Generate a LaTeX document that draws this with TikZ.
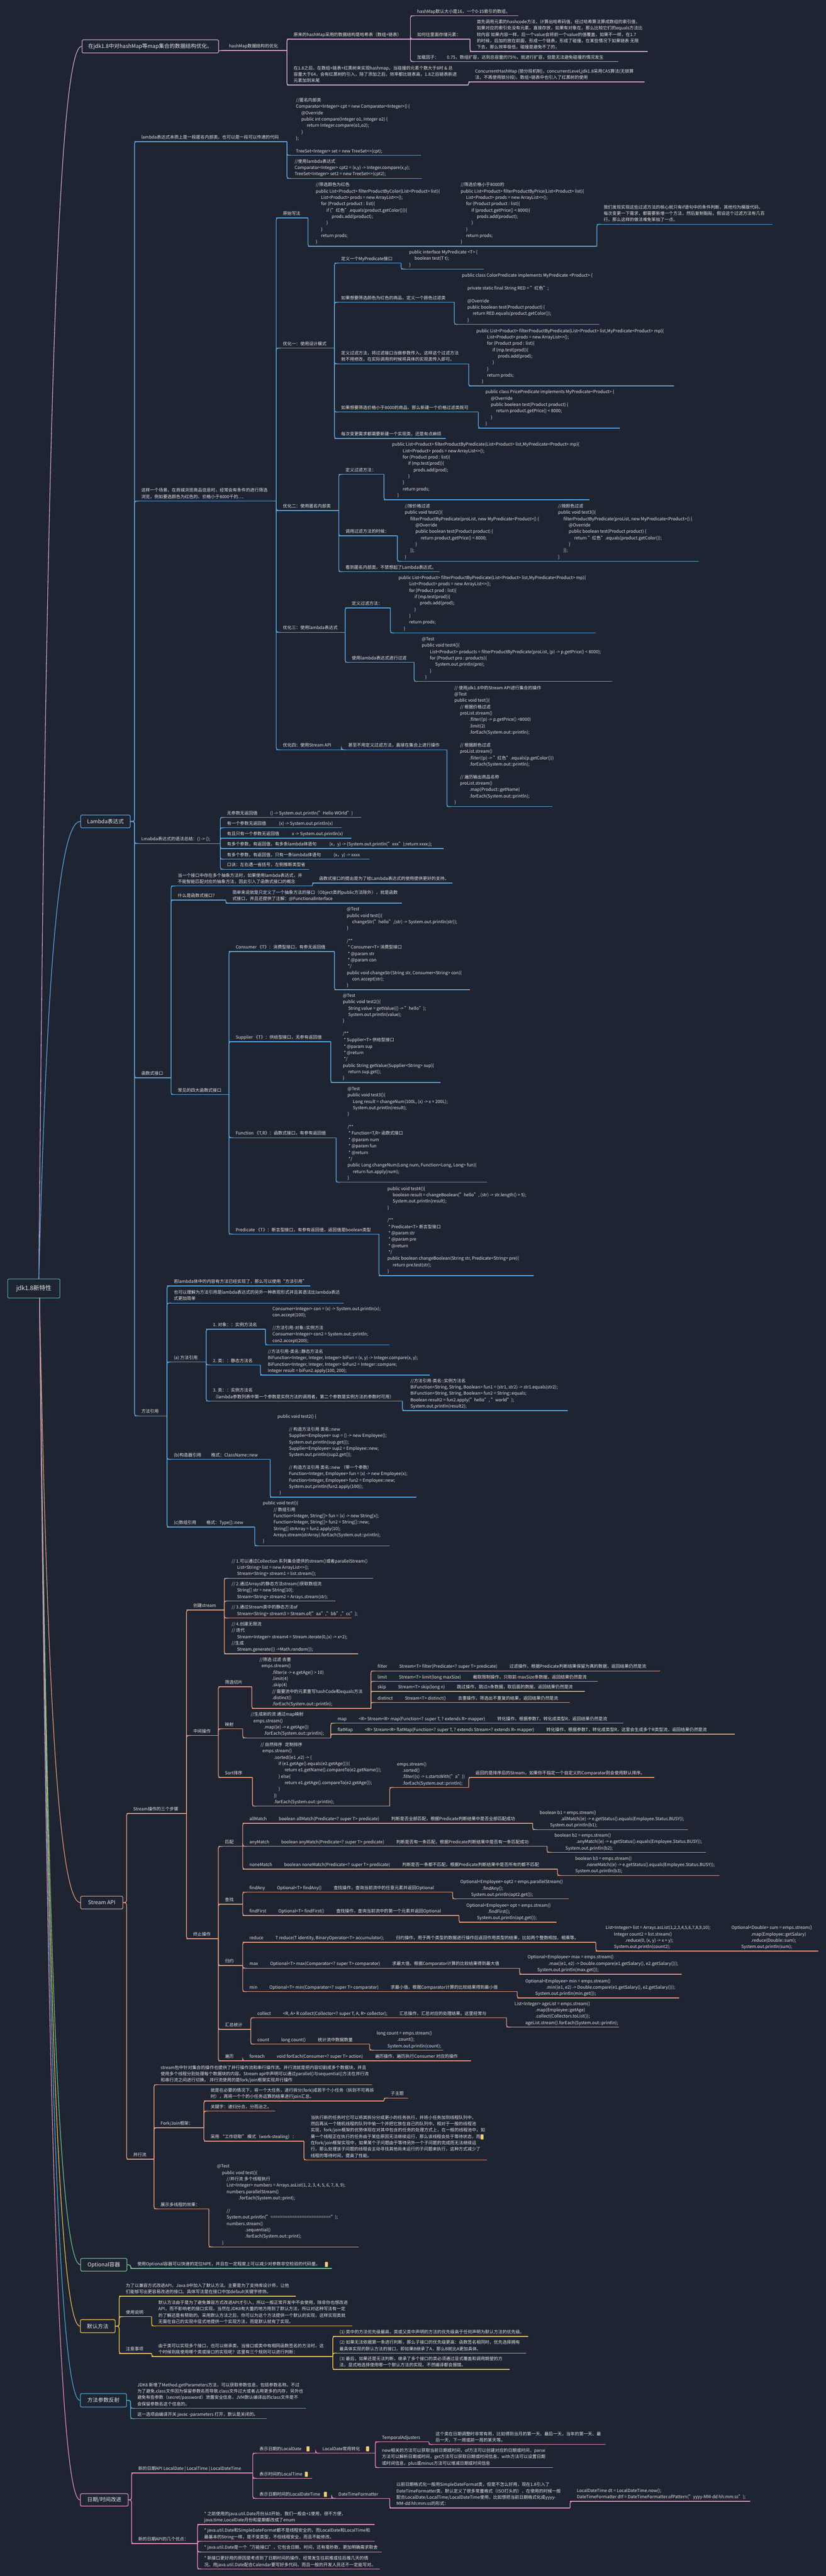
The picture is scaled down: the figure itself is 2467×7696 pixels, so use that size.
\documentclass[tikz,border=0pt]{standalone}
\usepackage{fontspec}
\setmainfont{Noto Sans CJK SC}
\usetikzlibrary{calc}
\definecolor{bg}{HTML}{1E2431}
\definecolor{txtc}{HTML}{E8E8E8}
\definecolor{cA}{HTML}{D4A2D6}
\definecolor{cB}{HTML}{5AA6E0}
\definecolor{cC}{HTML}{E09A80}
\definecolor{cD}{HTML}{6FBF8E}
\definecolor{cE}{HTML}{EEC14C}
\definecolor{cF}{HTML}{49A9D9}
\definecolor{cG}{HTML}{E48DBE}
\definecolor{cR}{HTML}{4BA39E}
\definecolor{noteY}{HTML}{F3D27A}
\newcommand\jj[1]{\hspace*{#1pt}}
\tikzset{
  txt/.style={text=txtc, font=\fontsize{13}{19}\selectfont, inner sep=0pt, align=left, text depth=4pt, anchor=south west},
  ul/.style={line width=2.2pt, draw=#1},
  conn/.style={line width=2.2pt, draw=#1, rounded corners=6pt},
  curve/.style={line width=2pt, draw=#1},
  mainbox/.style={draw=#1, line width=2pt, rounded corners=3pt, fill=bg, text=txtc, font=\fontsize{16}{20}\selectfont, inner sep=0pt, anchor=north west},
  icon/.style={fill=noteY, rounded corners=1.5pt, minimum width=9pt, minimum height=15pt, inner sep=0pt}
}
\newcommand\tp[6]{%
  \coordinate (#1-s) at (#3,#5);
  \coordinate (#1-e) at (#4,#5);
  \draw[ul=#2] (#1-s) -- (#1-e);
  \node[txt] (#1) at ({#3+20},{#5-4}) {#6};}
\newcommand\tpx[7]{%
  \coordinate (#1-s) at (#3,#5);
  \coordinate (#1-e) at (#4,#5);
  \draw[ul=#2] (#1-s) -- (#1-e);
  \node[txt] (#1) at (#6,{#5-4}) {#7};}
\newcommand\cns[3]{\foreach \chn in {#3}{\draw[conn=#1] (#2-e) |- ([xshift=12pt]\chn-s);}}
\newcommand\cbs[3]{\foreach \chn in {#3}{\draw[conn=#1] (#2.east) -- (#2.east -| \chn-s) |- ([xshift=12pt]\chn-s);}}
\begin{document}
\begin{tikzpicture}[x=1pt,y=-1pt]
\fill[bg] (0,0) rectangle (2467,7696);
\useasboundingbox (0,0) rectangle (2467,7696);

% ---------- root and main boxes ----------
\node[mainbox=cR, font=\fontsize{18}{22}\selectfont, minimum width=156pt, minimum height=57pt] (root) at (22,3820) {jdk1.8新特性};
\coordinate (rt) at (116,3820);
\coordinate (rb) at (118,3877);
\node[mainbox=cA, minimum width=408pt, minimum height=39pt] (b1) at (244,118) {在jdk1.8中对hashMap等map集合的数据结构优化。};
\node[mainbox=cB, minimum width=148pt, minimum height=38pt] (lam) at (240,2434) {Lambda表达式};
\node[mainbox=cC, minimum width=126pt, minimum height=38pt] (stm) at (240,5664) {Stream API};
\node[mainbox=cD, minimum width=138pt, minimum height=38pt] (opt) at (240,6746) {Optional容器};
\node[mainbox=cE, minimum width=104pt, minimum height=39pt] (dft) at (239,6929) {默认方法};
\node[mainbox=cF, minimum width=138pt, minimum height=40pt] (prf) at (239,7150) {方法参数反射};
\node[mainbox=cG, minimum width=143pt, minimum height=37pt] (dat) at (239,7449) {日期/时间改进};

\draw[curve=cA] (rt) .. controls (136,1610) and (165,137.5) .. (b1.west);
\draw[curve=cB] (rt) .. controls (136,3068) and (166,2453) .. (lam.west);
\draw[curve=cC] (rb) .. controls (138,4870) and (167,5683) .. (stm.west);
\draw[curve=cD] (rb) .. controls (138,5465) and (167,6765) .. (opt.west);
\draw[curve=cE] (rb) .. controls (138,5566) and (166,6948.5) .. (dft.west);
\draw[curve=cF] (rb) .. controls (138,5688) and (166,7170) .. (prf.west);
\draw[curve=cG] (rb) .. controls (138,5852) and (166,7467.5) .. (dat.west);

% ---------- branch A : hashMap ----------
\tp{hA}{cA}{664}{857}{151}{hashMap数据结构的优化}
\tp{hA1}{cA}{857}{1226}{117}{原来的hashMap采用的数据结构是哈希表（数组+链表）}
\tp{hA2}{cA}{857}{1399}{254}{在1.8之后，在数组+链表+红黑树来实现hashmap，当碰撞的元素个数大于8时 \& 总\\容量大于64，会有红黑树的引入，除了添加之后，效率都比链表高，1.8之后链表新进\\元素加到末尾}
\tp{hA11}{cA}{1226}{1549}{47}{hashMap默认大小是16，一个0-15索引的数组，}
\tp{hA12}{cA}{1226}{1404}{117}{如何往里面存储元素：}
\tp{hA13}{cA}{1226}{1847}{184}{加载因子：\jj{24}0.75，数组扩容，达到总容量的75\%，就进行扩容，但是无法避免碰撞的情况发生}
\tp{hA121}{cA}{1404}{1934}{154}{首先调用元素的hashcode方法，计算出哈希码值，经过哈希算法算成数组的索引值，\\如果对应的索引处没有元素，直接存放，如果有对象在，那么比较它们的equals方法比\\较内容 如果内容一样，后一个value会将前一个value的值覆盖，如果不一样，在1.7\\的时候，后加的放在前面，形成一个链表，形成了碰撞，在某些情况下如果链表 无限\\下去，那么效率极低，碰撞是避免不了的，}
\tp{hA21}{cA}{1399}{1926}{245}{ConcurrentHashMap (锁分段机制)，concurrentLevel,jdk1.8采用CAS算法(无锁算\\法，不再使用锁分段)，数组+链表中也引入了红黑树的使用}
\draw[conn=cA] ([yshift=-13pt]b1.east) -- (hA-s);
\cns{cA}{hA}{hA1,hA2}
\cns{cA}{hA1}{hA11,hA12,hA13}
\cns{cA}{hA12}{hA121}
\cns{cA}{hA2}{hA21}

% ---------- branch B : Lambda ----------
\tp{L1}{cB}{402}{857}{423}{lambda表达式本质上是一段匿名内部类，也可以是一段可以传递的代码}
\tpx{L1a}{cB}{857}{1258}{464}{884}{//匿名内部类\\Comparator<Integer> cpt = new Comparator<Integer>() \{\\\jj{16}@Override\\\jj{16}public int compare(Integer o1, Integer o2) \{\\\jj{32}return Integer.compare(o1,o2);\\\jj{16}\}\\\};\\\mbox{}\\TreeSet<Integer> set = new TreeSet<>(cpt);}
\tpx{L1b}{cB}{857}{1261}{533}{880}{//使用lambda表达式\\Comparator<Integer> cpt2 = (x,y) -> Integer.compare(x,y);\\TreeSet<Integer> set2 = new TreeSet<>(cpt2);}

\tp{L2}{cB}{402}{825}{1497}{这样一个场景，在商城浏览商品信息时，经常会有条件的进行筛选\\浏览，例如要选颜色为红色的、价格小于8000千的….}
\tp{L2a}{cB}{825}{920}{651}{原始写法}
\tpx{L2a1}{cB}{920}{1783}{736}{943}{//筛选颜色为红色\\public List<Product> filterProductByColor(List<Product> list)\{\\\jj{16}List<Product> prods = new ArrayList<>();\\\jj{16}for (Product product : list)\{\\\jj{32}if ("红色".equals(product.getColor()))\{\\\jj{48}prods.add(product);\\\jj{32}\}\\\jj{16}\}\\\jj{16}return prods;\\\}}
\node[txt] (L2a1b) at (1376,732) {//筛选价格小于8000的\\public List<Product> filterProductByPrice(List<Product> list)\{\\\jj{16}List<Product> prods = new ArrayList<>();\\\jj{16}for (Product product : list)\{\\\jj{32}if (product.getPrice() < 8000)\{\\\jj{48}prods.add(product);\\\jj{32}\}\\\jj{16}\}\\\jj{16}return prods;\\\}};
\tp{L2a1a}{cB}{1783}{2308}{670}{我们发现实现这些过滤方法的核心就只有if语句中的条件判断，其他均为模版代码，\\每次变更一下需求，都需要新增一个方法，然后复制黏贴，假设这个过滤方法有几百\\行，那么这样的做法难免笨拙了一点。}

\tp{L2b}{cB}{825}{999}{1040}{优化一：使用设计模式}
\tp{L2b1}{cB}{999}{1198}{786}{定义一个MyPredicate接口}
\tpx{L2b1a}{cB}{1198}{1446}{804}{1222}{public interface MyPredicate <T> \{\\\jj{16}boolean test(T t);\\\}}
\tp{L2b2}{cB}{999}{1357}{903}{如果想要筛选颜色为红色的商品，定义一个颜色过滤类}
\tpx{L2b2a}{cB}{1357}{1790}{969}{1380}{public class ColorPredicate implements MyPredicate <Product> \{\\\mbox{}\\\jj{16}private static final String RED = "红色";\\\mbox{}\\\jj{16}@Override\\\jj{16}public boolean test(Product product) \{\\\jj{32}return RED.equals(product.getColor());\\\jj{16}\}}
\tp{L2b3}{cB}{999}{1400}{1087}{定义过滤方法，将过滤接口当做参数传入，这样这个过滤方法\\就不用修改，在实际调用的时候将具体的实现类传入即可。}
\tpx{L2b3a}{cB}{1400}{2014}{1153}{1423}{public List<Product> filterProductByPredicate(List<Product> list,MyPredicate<Product> mp)\{\\\jj{32}List<Product> prods = new ArrayList<>();\\\jj{32}for (Product prod : list)\{\\\jj{48}if (mp.test(prod))\{\\\jj{64}prods.add(prod);\\\jj{48}\}\\\jj{32}\}\\\jj{32}return prods;\\\jj{16}\}}
\tp{L2b4}{cB}{999}{1429}{1231}{如果想要筛选价格小于8000的商品，那么新建一个价格过滤类既可}
\tpx{L2b4a}{cB}{1429}{1852}{1279}{1450}{public class PricePredicate implements MyPredicate<Product> \{\\\jj{16}@Override\\\jj{16}public boolean test(Product product) \{\\\jj{32}return product.getPrice() < 8000;\\\jj{16}\}\\\}}
\tp{L2b5}{cB}{999}{1331}{1310}{每次变更需求都需要新建一个实现类，还是有点麻烦}

\tp{L2c}{cB}{825}{1012}{1525}{优化二：使用匿名内部类}
\tp{L2c1}{cB}{1012}{1147}{1417}{定义过滤方法：}
\tpx{L2c1a}{cB}{1147}{1761}{1493}{1171}{public List<Product> filterProductByPredicate(List<Product> list,MyPredicate<Product> mp)\{\\\jj{32}List<Product> prods = new ArrayList<>();\\\jj{32}for (Product prod : list)\{\\\jj{48}if (mp.test(prod))\{\\\jj{64}prods.add(prod);\\\jj{48}\}\\\jj{32}\}\\\jj{32}return prods;\\\jj{16}\}}
\tp{L2c2}{cB}{1012}{1187}{1601}{调用过滤方法的时候：}
\tpx{L2c2a}{cB}{1187}{2087}{1677}{1209}{//按价格过滤\\public void test2()\{\\\jj{16}filterProductByPredicate(proList, new MyPredicate<Product>() \{\\\jj{32}@Override\\\jj{32}public boolean test(Product product) \{\\\jj{48}return product.getPrice() < 8000;\\\jj{32}\}\\\jj{16}\});\\\}}
\node[txt] (L2c2b) at (1667,1673) {//按颜色过滤\\public void test3()\{\\\jj{16}filterProductByPredicate(proList, new MyPredicate<Product>() \{\\\jj{32}@Override\\\jj{32}public boolean test(Product product) \{\\\jj{48}return "红色".equals(product.getColor());\\\jj{32}\}\\\jj{16}\});\\\}};
\tp{L2c3}{cB}{1012}{1313}{1708}{看到匿名内部类，不禁想起了Lambda表达式。}

\tp{L2d}{cB}{825}{1031}{1889}{优化三：使用lambda表达式}
\tp{L2d1}{cB}{1031}{1166}{1816}{定义过滤方法：}
\tpx{L2d1a}{cB}{1166}{1780}{1891}{1190}{public List<Product> filterProductByPredicate(List<Product> list,MyPredicate<Product> mp)\{\\\jj{32}List<Product> prods = new ArrayList<>();\\\jj{32}for (Product prod : list)\{\\\jj{48}if (mp.test(prod))\{\\\jj{64}prods.add(prod);\\\jj{48}\}\\\jj{32}\}\\\jj{32}return prods;\\\jj{16}\}}
\tp{L2d2}{cB}{1031}{1237}{1979}{使用lambda表达式进行过滤}
\tpx{L2d2a}{cB}{1237}{1829}{2036}{1260}{@Test\\public void test4()\{\\\jj{24}List<Product> products = filterProductByPredicate(proList, (p) -> p.getPrice() < 8000);\\\jj{24}for (Product pro : products)\{\\\jj{40}System.out.println(pro);\\\jj{24}\}\\\jj{10}\}}

\tp{L2e}{cB}{825}{1020}{2240}{优化四：使用Stream API}
\tp{L2e1}{cB}{1020}{1335}{2240}{甚至不用定义过滤方法，直接在集合上进行操作}
\tpx{L2e1a}{cB}{1335}{1650}{2410}{1357}{// 使用jdk1.8中的Stream API进行集合的操作\\@Test\\public void test()\{\\\jj{17}// 根据价格过滤\\\jj{17}proList.stream()\\\jj{45}.fliter((p) -> p.getPrice() <8000)\\\jj{45}.limit(2)\\\jj{45}.forEach(System.out::println);\\\mbox{}\\\jj{17}// 根据颜色过滤\\\jj{17}proList.stream()\\\jj{45}.fliter((p) -> "红色".equals(p.getColor()))\\\jj{45}.forEach(System.out::println);\\\mbox{}\\\jj{17}// 遍历输出商品名称\\\jj{17}proList.stream()\\\jj{45}.map(Product::getName)\\\jj{45}.forEach(System.out::println);\\\}}

\tp{L3}{cB}{402}{658}{2520}{Lmabda表达式的语法总结：() -> ();}
\tp{L3a}{cB}{658}{1079}{2442}{无参数无返回值\jj{38}() -> System.out.println("Hello WOrld")}
\tp{L3b}{cB}{658}{1020}{2473}{有一个参数无返回值\jj{38}(x) -> System.out.println(x)}
\tp{L3c}{cB}{658}{1050}{2504}{有且只有一个参数无返回值\jj{38}x -> System.out.println(x)}
\tp{L3d}{cB}{658}{1325}{2535}{有多个参数，有返回值，有多条lambda体语句\jj{38}(x，y) -> \{System.out.println("xxx");return xxxx;\};}
\tp{L3e}{cB}{658}{1104}{2567}{有多个参数，有返回值，只有一条lambda体语句\jj{38}(x，y) -> xxxx}
\tp{L3f}{cB}{658}{923}{2597}{口诀：左右遇一省括号，左侧推断类型省}

\tp{L4}{cB}{402}{511}{3220}{函数式接口}
\tp{L4a}{cB}{511}{933}{2647}{当一个接口中存在多个抽象方法时，如果使用lambda表达式，并\\不能智能匹配对应的抽象方法，因此引入了函数式接口的概念}
\tp{L4a1}{cB}{933}{1352}{2638}{函数式接口的提出是为了给Lambda表达式的使用提供更好的支持。}
\tp{L4b}{cB}{511}{674}{2689}{什么是函数式接口？}
\tp{L4b1}{cB}{674}{1200}{2698}{简单来说就是只定义了一个抽象方法的接口（Object类的public方法除外），就是函数\\式接口，并且还提供了注解：@FunctionalInterface}
\tp{L4c}{cB}{511}{684}{3270}{常见的四大函数式接口}
\tp{L4c1}{cB}{684}{999}{2843}{Consumer 《T》：消费型接口，有参无返回值}
\tpx{L4c1a}{cB}{999}{1404}{2957}{1036}{@Test\\public void test()\{\\\jj{16}changeStr("hello",(str) -> System.out.println(str));\\\}\\\mbox{}\\/**\\\jj{3}* Consumer<T> 消费型接口\\\jj{3}* @param str\\\jj{3}* @param con\\\jj{3}*/\\public void changeStr(String str, Consumer<String> con)\{\\\jj{16}con.accept(str);\\\}}
\tp{L4c2}{cB}{684}{988}{3112}{Supplier 《T》：供给型接口，无参有返回值}
\tpx{L4c2a}{cB}{988}{1316}{3234}{1024}{@Test\\public void test2()\{\\\jj{16}String value = getValue(() -> "hello");\\\jj{16}System.out.println(value);\\\}\\\mbox{}\\/**\\\jj{3}* Supplier<T> 供给型接口\\\jj{3}* @param sup\\\jj{3}* @return\\\jj{3}*/\\public String getValue(Supplier<String> sup)\{\\\jj{16}return sup.get();\\\}}
\tp{L4c3}{cB}{684}{1004}{3399}{Function 《T,R》：函数式接口，有参有返回值}
\tpx{L4c3a}{cB}{1004}{1455}{3532}{1038}{@Test\\public void test3()\{\\\jj{16}Long result = changeNum(100L, (x) -> x + 200L);\\\jj{16}System.out.println(result);\\\}\\\mbox{}\\/**\\\jj{3}* Function<T,R> 函数式接口\\\jj{3}* @param num\\\jj{3}* @param fun\\\jj{3}* @return\\\jj{3}*/\\public Long changeNum(Long num, Function<Long, Long> fun)\{\\\jj{16}return fun.apply(num);\\\}}
\tp{L4c4}{cB}{684}{1132}{3687}{Predicate 《T》：断言型接口，有参有返回值，返回值是boolean类型}
\tpx{L4c4a}{cB}{1132}{1595}{3811}{1157}{public void test4()\{\\\jj{16}boolean result = changeBoolean("hello", (str) -> str.length() > 5);\\\jj{16}System.out.println(result);\\\}\\\mbox{}\\/**\\\jj{3}* Predicate<T> 断言型接口\\\jj{3}* @param str\\\jj{3}* @param pre\\\jj{3}* @return\\\jj{3}*/\\public boolean changeBoolean(String str, Predicate<String> pre)\{\\\jj{16}return pre.test(str);\\\}}

\tp{L5}{cB}{402}{499}{4230}{方法引用}
\tp{L5a}{cB}{499}{927}{3842}{若lambda体中的内容有方法已经实现了，那么可以使用“方法引用”}
\tp{L5b}{cB}{499}{1027}{3893}{也可以理解为方法引用是lambda表达式的另外一种表现形式并且其语法比lambda表达\\式更加简单}
\tp{L5c}{cB}{499}{616}{4069}{(a) 方法引用}
\tp{L5c1}{cB}{616}{793}{3971}{1. 对象：：实例方法名}
\tpx{L5c1a}{cB}{793}{1164}{4018}{814}{Consumer<Integer> con = (x) -> System.out.println(x);\\con.accept(100);\\\mbox{}\\//方法引用-对象::实例方法\\Consumer<Integer> con2 = System.out::println;\\con2.accept(200);}
\tp{L5c2}{cB}{616}{778}{4078}{2. 类：：静态方法名}
\tpx{L5c2a}{cB}{778}{1284}{4108}{800}{//方法引用-类名::静态方法名\\BiFunction<Integer, Integer, Integer> biFun = (x, y) -> Integer.compare(x, y);\\BiFunction<Integer, Integer, Integer> biFun2 = Integer::compare;\\Integer result = biFun2.apply(100, 200);}
\tp{L5c3}{cB}{616}{1202}{4186}{3. 类：：实例方法名\\（lambda参数列表中第一个参数是实例方法的调用者，第二个参数是实例方法的参数时可用）}
\tpx{L5c3a}{cB}{1202}{1696}{4214}{1226}{//方法引用-类名::实例方法名\\BiFunction<String, String, Boolean> fun1 = (str1, str2) -> str1.equals(str2);\\BiFunction<String, String, Boolean> fun2 = String::equals;\\Boolean result2 = fun2.apply("hello", "world");\\System.out.println(result2);}
\tp{L5d}{cB}{499}{807}{4360}{(b)构造器引用\jj{30}格式：ClassName::new}
\tpx{L5d1}{cB}{807}{1244}{4473}{829}{public void test2() \{\\\mbox{}\\\jj{34}// 构造方法引用 类名::new\\\jj{34}Supplier<Employee> sup = () -> new Employee();\\\jj{34}System.out.println(sup.get());\\\jj{34}Supplier<Employee> sup2 = Employee::new;\\\jj{34}System.out.println(sup2.get());\\\mbox{}\\\jj{34}// 构造方法引用 类名::new （带一个参数）\\\jj{34}Function<Integer, Employee> fun = (x) -> new Employee(x);\\\jj{34}Function<Integer, Employee> fun2 = Employee::new;\\\jj{34}System.out.println(fun2.apply(100));\\\jj{6}\}}
\tp{L5e}{cB}{499}{761}{4562}{(c)数组引用\jj{30}格式：Type[]::new}
\tpx{L5e1}{cB}{761}{1164}{4618}{785}{public void test()\{\\\jj{32}// 数组引用\\\jj{32}Function<Integer, String[]> fun = (x) -> new String[x];\\\jj{32}Function<Integer, String[]> fun2 = String[]::new;\\\jj{32}String[] strArray = fun2.apply(10);\\\jj{32}Arrays.stream(strArray).forEach(System.out::println);\\\}}

\cbs{cB}{lam}{L1,L2,L3,L4,L5}
\cns{cB}{L1}{L1a,L1b}
\cns{cB}{L2}{L2a,L2b,L2c,L2d,L2e}
\cns{cB}{L2a}{L2a1}
\cns{cB}{L2a1}{L2a1a}
\cns{cB}{L2b}{L2b1,L2b2,L2b3,L2b4,L2b5}
\cns{cB}{L2b1}{L2b1a}
\cns{cB}{L2b2}{L2b2a}
\cns{cB}{L2b3}{L2b3a}
\cns{cB}{L2b4}{L2b4a}
\cns{cB}{L2c}{L2c1,L2c2,L2c3}
\cns{cB}{L2c1}{L2c1a}
\cns{cB}{L2c2}{L2c2a}
\cns{cB}{L2d}{L2d1,L2d2}
\cns{cB}{L2d1}{L2d1a}
\cns{cB}{L2d2}{L2d2a}
\cns{cB}{L2e}{L2e1}
\cns{cB}{L2e1}{L2e1a}
\cns{cB}{L3}{L3a,L3b,L3c,L3d,L3e,L3f}
\cns{cB}{L4}{L4a,L4b,L4c}
\cns{cB}{L4a}{L4a1}
\cns{cB}{L4b}{L4b1}
\cns{cB}{L4c}{L4c1,L4c2,L4c3,L4c4}
\cns{cB}{L4c1}{L4c1a}
\cns{cB}{L4c2}{L4c2a}
\cns{cB}{L4c3}{L4c3a}
\cns{cB}{L4c4}{L4c4a}
\cns{cB}{L5}{L5a,L5b,L5c,L5d,L5e}
\cns{cB}{L5c}{L5c1,L5c2,L5c3}
\cns{cB}{L5c1}{L5c1a}
\cns{cB}{L5c2}{L5c2a}
\cns{cB}{L5c3}{L5c3a}
\cns{cB}{L5d}{L5d1}
\cns{cB}{L5e}{L5e1}

% ---------- branch C : Stream API ----------
\tp{S1}{cC}{378}{557}{5418}{Stream操作的三个步骤}
\tp{S1a}{cC}{557}{670}{4810}{创建stream}
\tpx{S1a1}{cC}{670}{1115}{4715}{692}{// 1.可以通过Collection 系列集合提供的stream()或者parallelStream()\\\jj{16}List<String> list = new ArrayList<>();\\\jj{16}Stream<String> stream1 = list.stream();}
\tpx{S1a2}{cC}{670}{1002}{4783}{692}{// 2.通过Arrays的静态方法stream()获取数组流\\\jj{16}String[] str = new String[10];\\\jj{16}Stream<String> stream2 = Arrays.stream(str);}
\tpx{S1a3}{cC}{670}{1049}{4834}{692}{// 3.通过Stream类中的静态方法of\\\jj{16}Stream<String> stream3 = Stream.of("aa","bb","cc");}
\tpx{S1a4}{cC}{670}{1070}{4941}{692}{// 4.创建无限流\\// 迭代\\\jj{16}Stream<Integer> stream4 = Stream.iterate(0,(x) -> x+2);\\//生成\\\jj{16}Stream.generate(() ->Math.random());}
\tp{S1b}{cC}{557}{652}{5185}{中间操作}
\tp{S1b1}{cC}{652}{752}{5039}{筛选切片}
\tpx{S1b1a}{cC}{752}{1108}{5104}{775}{//筛选 过滤 去重\\\jj{6}emps.stream()\\\jj{38}.filter(e -> e.getAge() > 10)\\\jj{38}.limit(4)\\\jj{38}.skip(4)\\\jj{38}// 需要流中的元素重写hashCode和equals方法\\\jj{38}.distinct()\\\jj{38}.forEach(System.out::println);}
\tp{Sf1}{cC}{1108}{1971}{4992}{filter\jj{36}Stream<T> filter(Predicate<? super T> predicate)\jj{36}过滤操作，根据Predicate判断结果保留为真的数据，返回结果仍然是流}
\tp{Sf2}{cC}{1108}{1786}{5023}{limit\jj{36}Stream<T> limit(long maxSize)\jj{36}截取限制操作，只取前 maxSize条数据，返回结果仍然是流}
\tp{Sf3}{cC}{1108}{1747}{5053}{skip\jj{36}Stream<T> skip(long n)\jj{36}跳过操作，跳过n条数据，取后面的数据，返回结果仍然是流}
\tp{Sf4}{cC}{1108}{1703}{5086}{distinct\jj{36}Stream<T> distinct()\jj{36}去重操作，筛选出不重复的结果，返回结果仍然是流}
\tp{S1b2}{cC}{652}{725}{5165}{映射}
\tpx{S1b2a}{cC}{725}{988}{5192}{749}{//生成新的流 通过map映射\\\jj{8}emps.stream()\\\jj{39}.map((e) -> e.getAge())\\\jj{39}.forEach(System.out::println);}
\tp{Sm1}{cC}{988}{1862}{5148}{map\jj{36}<R> Stream<R> map(Function<? super T, ? extends R> mapper)\jj{36}转化操作，根据参数T，转化成类型R，返回结果仍然是流}
\tp{Sm2}{cC}{988}{2195}{5181}{flatMap\jj{36}<R> Stream<R> flatMap(Function<? super T, ? extends Stream<? extends R>> mapper)\jj{36}转化操作，根据参数T，转化成类型R，这里会生成多个R类型流，返回结果仍然是流}
\tp{S1b3}{cC}{652}{754}{5310}{Sort排序}
\tpx{S1b3a}{cC}{754}{1164}{5396}{778}{// 自然排序\jj{8}定制排序\\\jj{6}emps.stream()\\\jj{40}.sorted((e1 ,e2) -> \{\\\jj{54}if (e1.getAge().equals(e2.getAge()))\{\\\jj{72}return e1.getName().compareTo(e2.getName());\\\jj{54}\} else\{\\\jj{72}return e1.getAge().compareTo(e2.getAge());\\\jj{54}\}\\\jj{40}\})\\\jj{40}.forEach(System.out::println);}
\tpx{S1b3b}{cC}{1164}{1400}{5340}{1186}{emps.stream()\\\jj{16}.sorted()\\\jj{16}.filter((s) -> s.startsWith("a"))\\\jj{16}.forEach(System.out::println);}
\tp{S1b3c}{cC}{1400}{1954}{5310}{返回的是排序后的Stream，如果你不指定一个自定义的Comparator则会使用默认排序。}
\tp{S1c}{cC}{557}{652}{5792}{终止操作}
\tp{S1c1}{cC}{652}{725}{5516}{匹配}
\tp{Sa1}{cC}{725}{1591}{5447}{allMatch\jj{36}boolean allMatch(Predicate<? super T> predicate)\jj{36}判断是否全部匹配，根据Predicate判断结果中是否全部匹配成功}
\tpx{Sa1c}{cC}{1591}{2055}{5466}{1612}{boolean b1 = emps.stream()\\\jj{63}.allMatch((e) -> e.getStatus().equals(Employee.Status.BUSY));\\\jj{31}System.out.println(b1);}
\tp{Sa2}{cC}{725}{1634}{5516}{anyMatch\jj{36}boolean anyMatch(Predicate<? super T> predicate)\jj{36}判断是否有一条匹配，根据Predicate判断结果中是否有一条匹配成功}
\tpx{Sa2c}{cC}{1634}{2108}{5534}{1656}{boolean b2 = emps.stream()\\\jj{65}.anyMatch((e) -> e.getStatus().equals(Employee.Status.BUSY));\\\jj{33}System.out.println(b2);}
\tp{Sa3}{cC}{725}{1665}{5584}{noneMatch\jj{36}boolean noneMatch(Predicate<? super T> predicate)\jj{36}判断是否一条都不匹配，根据Predicate判断结果中是否所有的都不匹配}
\tpx{Sa3c}{cC}{1665}{2149}{5603}{1718}{boolean b3 = emps.stream()\\\jj{32}.noneMatch((e) -> e.getStatus().equals(Employee.Status.BUSY));\\System.out.println(b3);}
\tp{S1c2}{cC}{652}{725}{5689}{查找}
\tp{Sq1}{cC}{725}{1352}{5653}{findAny\jj{36}Optional<T> findAny()\jj{36}查找操作，查询当前流中的任意元素并返回Optional}
\tpx{Sq1c}{cC}{1352}{1699}{5673}{1375}{Optional<Employee> opt2 = emps.parallelStream()\\\jj{65}.findAny();\\\jj{32}System.out.println(opt2.get());}
\tp{Sq2}{cC}{725}{1371}{5723}{findFirst\jj{36}Optional<T> findFirst()\jj{36}查找操作，查询当前流中的第一个元素并返回Optional}
\tpx{Sq2c}{cC}{1371}{1663}{5743}{1393}{Optional<Employee> opt = emps.stream()\\\jj{64}.findFirst();\\\jj{32}System.out.println(opt.get());}
\tp{S1c3}{cC}{652}{725}{5872}{归约}
\tp{Sr1}{cC}{725}{1780}{5803}{reduce\jj{36}T reduce(T identity, BinaryOperator<T> accumulator);\jj{36}归约操作，用于两个类型的数据进行操作后返回作用类型的结果，比如两个整数相加、相乘等。}
\tpx{Sr1c}{cC}{1780}{2444}{5829}{1809}{List<Integer> list = Arrays.asList(1,2,3,4,5,6,7,8,9,10);\\\jj{25}Integer count2 = list.stream()\\\jj{58}.reduce(0, (x, y) -> x + y);\\\jj{25}System.out.println(count2);}
\node[txt] (Sr1d) at (2185,5825) {Optional<Double> sum = emps.stream()\\\jj{58}.map(Employee::getSalary)\\\jj{58}.reduce(Double::sum);\\\jj{29}System.out.println(sum);};
\tp{Sr2}{cC}{725}{1552}{5880}{max\jj{36}Optional<T> max(Comparator<? super T> comparator)\jj{36}求最大值，根据Comparator计算的比较结果得到最大值}
\tpx{Sr2c}{cC}{1552}{2036}{5898}{1576}{Optional<Employee> max = emps.stream()\\\jj{62}.max((e1, e2) -> Double.compare(e1.getSalary(), e2.getSalary()));\\\jj{29}System.out.println(max.get());}
\tp{Sr3}{cC}{725}{1545}{5950}{min\jj{36}Optional<T> min(Comparator<? super T> comparator)\jj{36}求最小值，根据Comparator计算的比较结果得到最小值}
\tpx{Sr3c}{cC}{1545}{2029}{5969}{1569}{Optional<Employee> min = emps.stream()\\\jj{62}.min((e1, e2) -> Double.compare(e1.getSalary(), e2.getSalary()));\\\jj{30}System.out.println(min.get());}
\tp{S1c4}{cC}{652}{749}{6063}{汇总统计}
\tp{Ss1}{cC}{749}{1513}{6028}{collect\jj{36}<R, A> R collect(Collector<? super T, A, R> collector);\jj{36}汇总操作，汇总对应的处理结果。这里经常与}
\tpx{Ss1c}{cC}{1513}{1848}{6056}{1537}{List<Integer> ageList = emps.stream()\\\jj{62}.map(Employee::getAge)\\\jj{62}.collect(Collectors.toList());\\\jj{32}ageList.stream().forEach(System.out::println);}
\tp{Ss2}{cC}{749}{1104}{6107}{count\jj{36}long count()\jj{36}统计流中数据数量}
\tpx{Ss2c}{cC}{1104}{1323}{6125}{1125}{long count = emps.stream()\\\jj{62}.count();\\\jj{32}System.out.println(count);}
\tp{S1c5}{cC}{652}{725}{6157}{遍历}
\tp{Sv1}{cC}{725}{1407}{6157}{foreach\jj{36}void forEach(Consumer<? super T> action)\jj{36}遍历操作，遍历执行Consumer 对应的操作}

\tp{S2}{cC}{378}{460}{6451}{并行流}
\tp{S2a}{cC}{460}{1111}{6228}{stream包中针对集合的操作也提供了并行操作流和串行操作流。并行流就是把内容切割成多个数据块，并且\\使用多个线程分别处理每个数据块的内容。Stream api中声明可以通过parallel()与sequential()方法在并行流\\和串行流之间进行切换。 并行流使用的是fork/join框架实现并行操作}
\tp{S2b}{cC}{460}{609}{6357}{Fork/Join框架：}
\tp{S2b1}{cC}{609}{1147}{6277}{就是在必要的情况下，将一个大任务，进行拆分(fork)成若干个小任务（拆到不可再拆\\时），再将一个个的小任务运算的结果进行join汇总。}
\tp{S2b1a}{cC}{1147}{1219}{6268}{子主题}
\tp{S2b2}{cC}{609}{822}{6307}{关键字：递归分合，分而治之。}
\tp{S2b3}{cC}{609}{908}{6397}{采用 “工作窃取” 模式（work-stealing）：}
\tp{S2b3a}{cC}{908}{1455}{6453}{当执行新的任务时它可以将其拆分分成更小的任务执行，并将小任务加到线程队列中，\\然后再从一个随机线程的队列中偷一个并把它放在自己的队列中。相对于一般的线程池\\实现，fork/join框架的优势体现在对其中包含的任务的处理方式上，在一般的线程池中，如\\果一个线程正在执行的任务由于某些原因无法继续运行，那么该线程会处于等待状态，而\\在fork/join框架实现中，如果某个子问题由于等待另外一个子问题的完成而无法继续运\\行，那么处理该子问题的线程会主动寻找其他尚未运行的子问题来执行，这种方式减少了\\线程的等待时间，提高了性能。}
\node[icon] (icS2) at (1440,6384) {};
\tp{S2c}{cC}{460}{624}{6599}{展示多线程的效果：}
\tpx{S2c1}{cC}{624}{1072}{6713}{648}{@Test\\\jj{15}public void test()\{\\\jj{29}//并行流 多个线程执行\\\jj{29}List<Integer> numbers = Arrays.asList(1, 2, 3, 4, 5, 6, 7, 8, 9);\\\jj{29}numbers.parallelStream()\\\jj{65}.forEach(System.out::print);\\\mbox{}\\\jj{29}//\\\jj{29}System.out.println("=========================");\\\jj{29}numbers.stream()\\\jj{84}.sequential()\\\jj{84}.forEach(System.out::print);\\\jj{15}\}}

\cbs{cC}{stm}{S1,S2}
\cns{cC}{S1}{S1a,S1b,S1c}
\cns{cC}{S1a}{S1a1,S1a2,S1a3,S1a4}
\cns{cC}{S1b}{S1b1,S1b2,S1b3}
\cns{cC}{S1b1}{S1b1a}
\cns{cC}{S1b1a}{Sf1,Sf2,Sf3,Sf4}
\cns{cC}{S1b2}{S1b2a}
\cns{cC}{S1b2a}{Sm1,Sm2}
\cns{cC}{S1b3}{S1b3a}
\cns{cC}{S1b3a}{S1b3b}
\cns{cC}{S1b3b}{S1b3c}
\cns{cC}{S1c}{S1c1,S1c2,S1c3,S1c4,S1c5}
\cns{cC}{S1c1}{Sa1,Sa2,Sa3}
\cns{cC}{Sa1}{Sa1c}
\cns{cC}{Sa2}{Sa2c}
\cns{cC}{Sa3}{Sa3c}
\cns{cC}{S1c2}{Sq1,Sq2}
\cns{cC}{Sq1}{Sq1c}
\cns{cC}{Sq2}{Sq2c}
\cns{cC}{S1c3}{Sr1,Sr2,Sr3}
\cns{cC}{Sr1}{Sr1c}
\cns{cC}{Sr2}{Sr2c}
\cns{cC}{Sr3}{Sr3c}
\cns{cC}{S1c4}{Ss1,Ss2}
\cns{cC}{Ss1}{Ss1c}
\cns{cC}{Ss2}{Ss2c}
\cns{cC}{S1c5}{Sv1}
\cns{cC}{S2}{S2a,S2b,S2c}
\cns{cC}{S2b}{S2b1,S2b2,S2b3}
\cns{cC}{S2b1}{S2b1a}
\cns{cC}{S2b3}{S2b3a}
\cns{cC}{S2c}{S2c1}

% ---------- branch D : Optional ----------
\tp{O1}{cD}{390}{991}{6777}{使用Optional容器可以快速的定位NPE，并且在一定程度上可以减少对参数非空检验的代码量。}
\node[icon] (icO1) at (975,6765) {};
\cbs{cD}{opt}{O1}

% ---------- branch E : default methods ----------
\tp{D1}{cE}{356}{884}{6860}{为了以兼容方式改进API，Java 8中加入了默认方法。主要是为了支持库设计师，让他\\们能够写出更容易改进的接口。具体写法是在接口中加default关键字修饰。}
\tp{D2}{cE}{356}{453}{6921}{使用说明}
\tp{D2a}{cE}{453}{1053}{6949}{默认方法由于是为了避免兼容方式改进API才引入，所以一般正常开发中不会使用，除非你也想改进\\API，而不影响老的接口实现。当然在JDK8有大量的地方用到了默认方法，所以对这种写法有一定\\的了解还是有帮助的。采用默认方法之后，你可以为这个方法提供一个默认的实现，这样实现类就\\无需在自己的实现中显式地提供一个实现方法，而是默认就有了实现。}
\tp{D3}{cE}{356}{453}{7031}{注意事项}
\tp{D3a}{cE}{453}{994}{7040}{由于类可以实现多个接口，也可以继承类，当接口或类中有相同函数签名的方法时，这\\个时候到底使用哪个类或接口的实现呢？这里有三个规则可以进行判断：}
\tp{D3a1}{cE}{994}{1577}{6980}{(1) 类中的方法优先级最高，类或父类中声明的方法的优先级高于任何声明为默认方法的优先级。}
\tp{D3a2}{cE}{994}{1572}{7030}{(2) 如果无法依据第一条进行判断，那么子接口的优先级更高：函数签名相同时，优先选择拥有\\最具体实现的默认方法的接口，即如果B继承了A，那么B就比A更加具体。}
\tp{D3a3}{cE}{994}{1522}{7079}{(3) 最后，如果还是无法判断，继承了多个接口的类必须通过显式覆盖和调用期望的方\\法，显式地选择使用哪一个默认方法的实现。不然编译都会报错。}
\cbs{cE}{dft}{D1,D2,D3}
\cns{cE}{D2}{D2a}
\cns{cE}{D3}{D3a}
\cns{cE}{D3a}{D3a1,D3a2,D3a3}

% ---------- branch F : parameter reflection ----------
\tp{P1}{cF}{390}{915}{7195}{JDK8 新增了Method.getParameters方法，可以获取参数信息，包括参数名称。不过\\为了避免.class文件因为保留参数名而导致.class文件过大或者占用更多的内存，另外也\\避免有些参数（secret/password）泄露安全信息，JVM默认编译出的class文件是不\\会保留参数名这个信息的。}
\tp{P2}{cF}{390}{797}{7226}{这一选项由编译开关 javac -parameters 打开，默认是关闭的。}
\cbs{cF}{prf}{P1,P2}

% ---------- branch G : date / time ----------
\tp{T1}{cG}{393}{755}{7388}{新的日期API LocalDate | LocalTime | LocalDateTime}
\tp{T1a}{cG}{755}{943}{7329}{表示日期的LocalDate}
\node[icon] (icT1a) at (920,7316) {};
\tp{T1a1}{cG}{943}{1121}{7329}{LocalDate常用转化}
\node[icon] (icT1a1) at (1098,7316) {};
\tp{T1a1a}{cG}{1121}{1281}{7295}{TemporalAdjusters}
\tp{T1a1a1}{cG}{1281}{1808}{7303}{这个类在日期调整时非常有用，比如得到当月的第一天、最后一天，当年的第一天、最\\后一天，下一周或前一周的某天等。}
\tp{T1a1b}{cG}{1121}{1651}{7372}{now相关的方法可以获取当前日期或时间，of方法可以创建对应的日期或时间，parse\\方法可以解析日期或时间，get方法可以获取日期或时间信息，with方法可以设置日期\\或时间信息，plus或minus方法可以增减日期或时间信息}
\tp{T1b}{cG}{755}{932}{7404}{表示时间的LocalTime}
\node[icon] (icT1b) at (915,7392) {};
\tp{T1c}{cG}{755}{991}{7464}{表示日期时间的LocalDateTime}
\node[icon] (icT1c) at (972,7452) {};
\tp{T1c1}{cG}{991}{1164}{7464}{DateTimeFormatter}
\tp{T1c1a}{cG}{1164}{1703}{7493}{以前日期格式化一般用SimpleDateFormat类，但是不怎么好用，现在1.8引入了\\DateTimeFormatter类，默认定义了很多常量格式（ISO打头的），在使用的时候一般\\配合LocalDate/LocalTime/LocalDateTime使用，比如想把当前日期格式化成yyyy-\\MM-dd hh:mm:ss的形式：}
\tp{T1c1a1}{cG}{1703}{2241}{7473}{LocalDateTime dt = LocalDateTime.now();\\DateTimeFormatter dtf = DateTimeFormatter.ofPattern("yyyy-MM-dd hh:mm:ss");}
\tp{T2}{cG}{393}{590}{7599}{新的日期API的几个优点：}
\tp{T2a}{cG}{590}{1119}{7542}{* 之前使用的java.util.Date月份从0开始，我们一般会+1使用，很不方便，\\java.time.LocalDate月份和星期都改成了enum}
\tp{T2b}{cG}{590}{1119}{7592}{* java.util.Date和SimpleDateFormat都不是线程安全的，而LocalDate和LocalTime和\\最基本的String一样，是不变类型，不但线程安全，而且不能修改。}
\tp{T2c}{cG}{590}{1140}{7624}{* java.util.Date是一个“万能接口”，它包含日期、时间，还有毫秒数，更加明确需求取舍}
\tp{T2d}{cG}{590}{1135}{7675}{* 新接口更好用的原因是考虑到了日期时间的操作，经常发生往前推或往后推几天的情\\况。用java.util.Date配合Calendar要写好多代码，而且一般的开发人员还不一定能写对。}
\cbs{cG}{dat}{T1,T2}
\cns{cG}{T1}{T1a,T1b,T1c}
\cns{cG}{T1a}{T1a1}
\cns{cG}{T1a1}{T1a1a,T1a1b}
\cns{cG}{T1a1a}{T1a1a1}
\cns{cG}{T1c}{T1c1}
\cns{cG}{T1c1}{T1c1a}
\cns{cG}{T1c1a}{T1c1a1}
\cns{cG}{T2}{T2a,T2b,T2c,T2d}
\end{tikzpicture}
\end{document}
